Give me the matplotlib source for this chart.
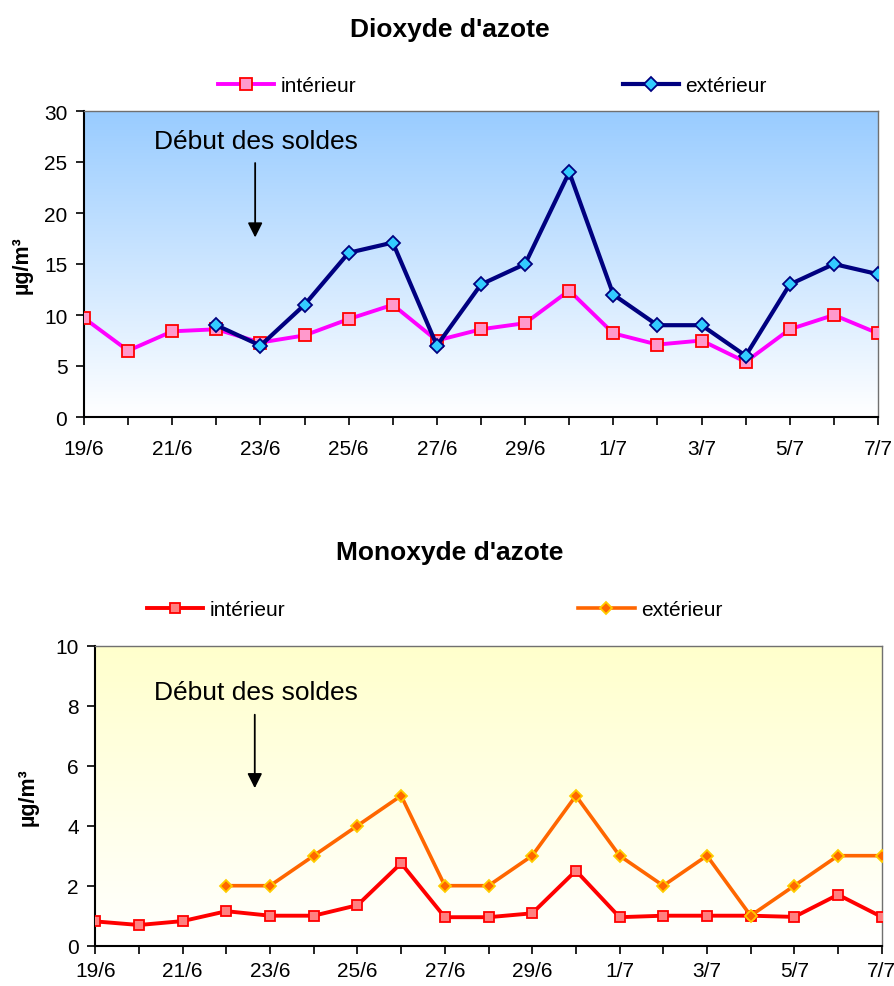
import numpy as np
import matplotlib
matplotlib.use("Agg")
import matplotlib.pyplot as plt
from matplotlib.colors import LinearSegmentedColormap

plt.rcParams['font.family'] = ['Liberation Sans', 'DejaVu Sans']

# ---- data ----
days = ["19/6", "20/6", "21/6", "22/6", "23/6", "24/6", "25/6", "26/6", "27/6", "28/6",
        "29/6", "30/6", "1/7", "2/7", "3/7", "4/7", "5/7", "6/7", "7/7"]
no2_interieur = [9.7, 6.5, 8.4, 8.6, 7.3, 8.0, 9.6, 11.0, 7.5, 8.6,
                 9.2, 12.4, 8.2, 7.1, 7.5, 5.4, 8.6, 10.0, 8.2]
no2_exterieur = [np.nan, np.nan, np.nan, 9.0, 7.0, 11.0, 16.1, 17.1, 7.0, 13.0,
                 15.0, 24.0, 12.0, 9.0, 9.0, 6.0, 13.0, 15.0, 14.0]
no_interieur = [0.81, 0.69, 0.82, 1.15, 1.0, 1.0, 1.35, 2.75, 0.95, 0.95,
                1.08, 2.5, 0.95, 1.0, 1.0, 1.0, 0.96, 1.7, 0.96]
no_exterieur = [np.nan, np.nan, np.nan, 2, 2, 3, 4, 5, 2, 2,
                3, 5, 3, 2, 3, 1, 2, 3, 3]

W, H = 895, 987
fig = plt.figure(figsize=(W / 100, H / 100), dpi=100)
x = np.arange(len(days))


def px_ax(l, t, r, b):
    return fig.add_axes([l / W, 1 - b / H, (r - l) / W, (b - t) / H])


def style(ax, ymax, ystep, top_color, xpad):
    ax.set_xlim(0, len(days) - 1)
    ax.set_ylim(0, ymax)
    grad = np.linspace(0, 1, 256).reshape(-1, 1)
    cmap = LinearSegmentedColormap.from_list("g", ["white", top_color])
    ax.imshow(grad, aspect='auto', cmap=cmap, extent=[0, 1, 0, 1],
              transform=ax.transAxes, zorder=0, vmin=0, vmax=1, origin='lower')
    ax.set_xticks(x)
    ax.set_xticklabels([d if i % 2 == 0 else "" for i, d in enumerate(days)])
    ax.set_yticks(np.arange(0, ymax + 0.1, ystep))
    ax.tick_params(axis='x', direction='out', length=6, width=1.2, pad=xpad, labelsize=15)
    ax.tick_params(axis='y', direction='out', length=6, width=1.2, pad=6, labelsize=15)
    for s in ['left', 'bottom']:
        ax.spines[s].set_color('black')
        ax.spines[s].set_linewidth(1.5)
    for s in ['top', 'right']:
        ax.spines[s].set_color('#707070')
        ax.spines[s].set_linewidth(1.0)


leg_kw = dict(frameon=False, fontsize=15, handlelength=2.7, handletextpad=0.3,
              borderpad=0, borderaxespad=0, loc='center left',
              bbox_transform=fig.transFigure)

# ---- top chart: NO2 ----
ax1 = px_ax(84, 112, 878, 418)
style(ax1, 30, 5, '#99CCFF', 10)
l1, = ax1.plot(x, no2_interieur, color='#FF00FF', lw=2.8, marker='s', ms=8.5,
               mfc='#FF99CC', mec='#FF0000', mew=1.3, zorder=3)
l2, = ax1.plot(x, no2_exterieur, color='#000080', lw=3.0, marker='D', ms=7,
               mfc='#33CCFF', mec='#000080', mew=1.3, zorder=4)
ax1.annotate("", xy=(3.88, 17.6), xytext=(3.88, 24.9),
             arrowprops=dict(arrowstyle='-|>', color='black', lw=1.3,
                             mutation_scale=22, shrinkA=0, shrinkB=0))
ax1.text(3.9, 27.1, "Début des soldes", ha='center', va='center', fontsize=19)
ax1.set_ylabel("µg/m³", fontsize=15.5, fontweight='bold', labelpad=8)

fig.text(450 / W, 1 - 30 / H, "Dioxyde d'azote", ha='center', va='center',
         fontsize=19, fontweight='bold')
fig.legend(handles=[l1], labels=["intérieur"],
           bbox_to_anchor=(218 / W, 1 - 87 / H), **leg_kw)
fig.legend(handles=[l2], labels=["extérieur"],
           bbox_to_anchor=(623 / W, 1 - 87 / H), **leg_kw)

# ---- bottom chart: NO ----
ax2 = px_ax(95.3, 646.7, 881.7, 946.7)
style(ax2, 10, 2, '#FFFFCC', 5)
m1, = ax2.plot(x, no_interieur, color='#FF0000', lw=2.8, marker='s', ms=7.5,
               mfc='#FF8080', mec='#FF0000', mew=1.3, zorder=3)
m2, = ax2.plot(x, no_exterieur, color='#FF6600', lw=2.6, marker='D', ms=6.3,
               mfc='#FF6600', mec='#FFCC00', mew=1.3, zorder=4)
ax2.annotate("", xy=(3.65, 5.25), xytext=(3.65, 7.7),
             arrowprops=dict(arrowstyle='-|>', color='black', lw=1.3,
                             mutation_scale=22, shrinkA=0, shrinkB=0))
ax2.text(3.67, 8.45, "Début des soldes", ha='center', va='center', fontsize=19)
ax2.set_ylabel("µg/m³", fontsize=15.5, fontweight='bold', labelpad=12)

fig.text(450 / W, 1 - 553 / H, "Monoxyde d'azote", ha='center', va='center',
         fontsize=19, fontweight='bold')
fig.legend(handles=[m1], labels=["intérieur"],
           bbox_to_anchor=(146.7 / W, 1 - 610.7 / H), **leg_kw)
fig.legend(handles=[m2], labels=["extérieur"],
           bbox_to_anchor=(578.3 / W, 1 - 610.7 / H), **leg_kw)

fig.savefig("out.png", dpi=100)
